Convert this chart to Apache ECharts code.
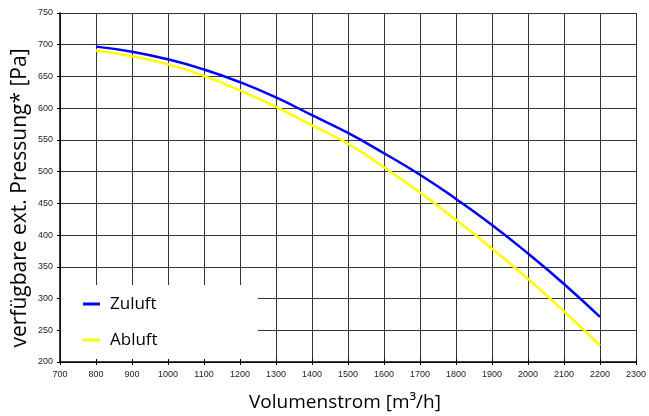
<!DOCTYPE html>
<html>
<head>
<meta charset="utf-8">
<script src="https://cdn.jsdelivr.net/npm/echarts@6/dist/echarts.min.js"></script>
<style>
html,body{margin:0;padding:0;background:#fff;}
#c{width:649px;height:416px;}
</style>
</head>
<body>
<div id="c"></div>
<script>
var volumen = [800, 900, 1000, 1100, 1200, 1300, 1400, 1500, 1600, 1700, 1800, 1900, 2000, 2100, 2200];
var zuluft  = [697, 689, 677, 661, 641, 617, 589, 561, 529, 495, 457, 416, 371, 323, 271];
var abluft  = [691, 682, 669, 651, 628, 602, 573, 544, 507, 467, 424, 379, 331, 280, 226];
var seriesNames = ['Zuluft', 'Abluft'];
var xTitle = 'Volumenstrom [m³/h]';
var yTitle = 'verfügbare ext. Pressung* [Pa]';

var chart = echarts.init(document.getElementById('c'), null, {renderer: 'canvas'});
function pairs(xs, ys) { return xs.map(function (x, i) { return [x, ys[i]]; }); }

var gridColor = '#333';
var tickFont = {color: '#222', fontSize: 9, fontFamily: 'Liberation Sans', formatter: function (v) { return String(v); }};

chart.setOption({
  animation: false,
  backgroundColor: '#fff',
  grid: {left: 60, top: 13, right: 11, bottom: 54, containLabel: false},
  xAxis: [{
    type: 'value', min: 700, max: 2300, interval: 100,
    axisLine: {show: true, onZero: false, lineStyle: {color: '#000', width: 1.5}},
    axisTick: {show: true, inside: false, length: 3, lineStyle: {color: '#000', width: 1}},
    axisLabel: Object.assign({margin: 8}, tickFont),
    splitLine: {show: true, lineStyle: {color: gridColor, width: 1}}
  }, {
    type: 'value', min: 700, max: 2300, interval: 100, position: 'bottom',
    axisLine: {show: false},
    axisTick: {show: true, inside: true, length: 3, lineStyle: {color: '#000', width: 1}},
    axisLabel: {show: false},
    splitLine: {show: false}
  }],
  yAxis: {
    type: 'value', min: 200, max: 750, interval: 50,
    axisLine: {show: true, onZero: false, lineStyle: {color: '#000', width: 1.5}},
    axisTick: {show: true, inside: false, length: 3, lineStyle: {color: '#000', width: 1}},
    axisLabel: Object.assign({margin: 7}, tickFont),
    splitLine: {show: true, lineStyle: {color: gridColor, width: 1}}
  },
  legend: {
    orient: 'vertical', left: 83, top: 294, padding: 0,
    itemWidth: 17, itemHeight: 3, itemGap: 16, icon: 'rect',
    textStyle: {fontSize: 17, fontFamily: 'Open Sans', color: '#000', lineHeight: 20, padding: [0, 0, 0, 5]},
    data: seriesNames, z: 10
  },
  graphic: [
    {type: 'rect', z: 1, silent: true, shape: {x: 61, y: 285, width: 197, height: 74}, style: {fill: '#fff'}},
    {type: 'text', z: 5, x: 345, y: 403, style: {text: xTitle, fontSize: 19, fontFamily: 'Open Sans', fill: '#000', align: 'center', verticalAlign: 'middle'}},
    {type: 'text', z: 5, x: 20, y: 198, rotation: Math.PI / 2, style: {text: yTitle, fontSize: 21, fontFamily: 'Open Sans', fill: '#000', align: 'center', verticalAlign: 'middle'}}
  ],
  series: [
    {name: seriesNames[0], type: 'line', xAxisIndex: 0, smooth: true, showSymbol: false, symbol: 'none', z: 3,
     lineStyle: {color: '#0000ff', width: 2.5}, itemStyle: {color: '#0000ff'}, data: pairs(volumen, zuluft)},
    {name: seriesNames[1], type: 'line', xAxisIndex: 0, smooth: true, showSymbol: false, symbol: 'none', z: 2,
     lineStyle: {color: '#ffff00', width: 2.5}, itemStyle: {color: '#ffff00'}, data: pairs(volumen, abluft)}
  ]
});
</script>
</body>
</html>
